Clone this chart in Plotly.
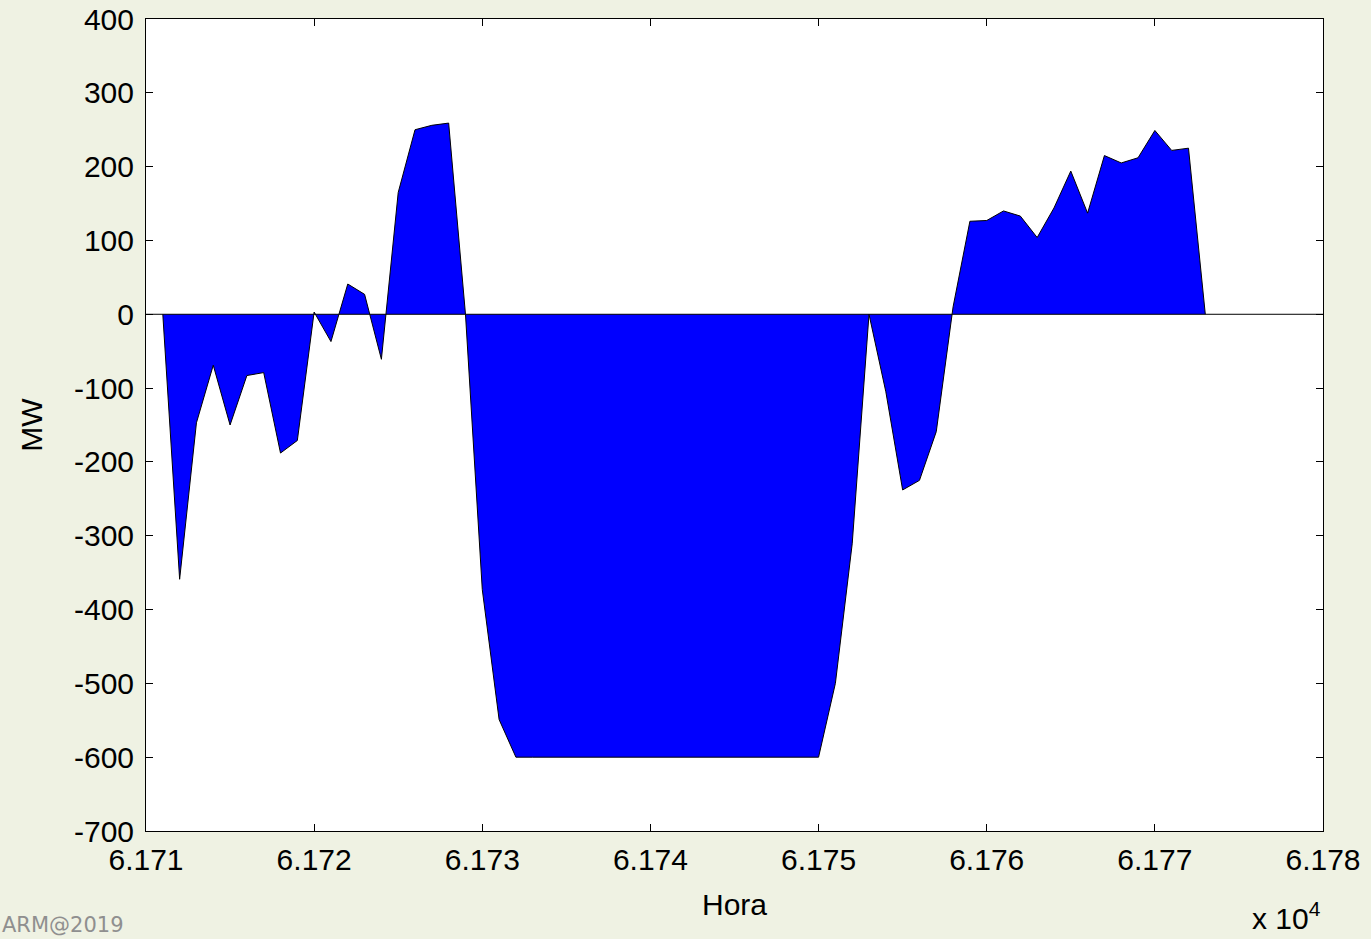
import plotly.graph_objects as go

# Hourly net power exchange (MW), hour index 61711 .. 61773
hours = list(range(61711, 61774))
mw = [
    0, -359, -147, -69, -150, -83, -79, -188, -171, 3,
    -37, 41, 27, -61, 165, 250, 256, 259, 0, -373,
    -549, -600, -600, -600, -600, -600, -600, -600, -600, -600,
    -600, -600, -600, -600, -600, -600, -600, -600, -600, -600,
    -500, -311, 0, -105, -238, -225, -159, 10, 126, 127,
    140, 133, 104, 144, 194, 137, 215, 205, 212, 249,
    222, 225, 0,
]

x_ticks = list(range(61710, 61781, 10))
x_tick_text = ["6.171", "6.172", "6.173", "6.174", "6.175", "6.176", "6.177", "6.178"]
y_ticks = list(range(-700, 401, 100))
y_tick_text = [str(v) for v in y_ticks]

FONT = "Liberation Sans, Arial, sans-serif"

fig = go.Figure()
fig.add_trace(go.Scatter(
    x=hours, y=mw,
    mode="lines",
    fill="tozeroy",
    fillcolor="#0000ff",
    line=dict(color="black", width=1),
    hoverinfo="x+y",
    showlegend=False,
))

# baseline of the area across the full axes width
fig.add_shape(type="line", xref="paper", yref="y", x0=0, x1=1, y0=0, y1=0,
              line=dict(color="black", width=1), layer="above")

fig.update_layout(
    width=1371, height=939,
    margin=dict(l=146, r=48, t=19, b=108),
    paper_bgcolor="#eff2e3",
    plot_bgcolor="white",
    font=dict(family=FONT, size=30, color="black"),
    xaxis=dict(
        range=[61710, 61780],
        tickvals=x_ticks, ticktext=x_tick_text,
        ticks="inside", ticklen=7, tickwidth=1, tickcolor="black",
        showline=True, linecolor="black", linewidth=1, mirror="ticks",
        showgrid=False, zeroline=False, automargin=False,
        ticklabelstandoff=2,
        tickfont=dict(size=30),
        title=dict(text="Hora", font=dict(size=30), standoff=18),
    ),
    yaxis=dict(
        range=[-700, 400],
        tickvals=y_ticks, ticktext=y_tick_text,
        ticks="inside", ticklen=7, tickwidth=1, tickcolor="black",
        showline=True, linecolor="black", linewidth=1, mirror="ticks",
        showgrid=False, zeroline=False, automargin=False,
        ticklabelstandoff=5,
        tickfont=dict(size=30),
        title=dict(text="MW", font=dict(size=30), standoff=22),
    ),
    annotations=[
        dict(text="x 10<sup>4</sup>", xref="paper", yref="paper",
             x=1.0, y=0, xanchor="right", yanchor="bottom", yshift=-106,
             showarrow=False, font=dict(size=30, family=FONT)),
        dict(text="ARM@2019", xref="paper", yref="paper",
             x=0, y=0, xanchor="left", yanchor="bottom",
             xshift=-146, yshift=-108, showarrow=False,
             font=dict(size=21, family="DejaVu Sans, sans-serif", color="#8f8f8f")),
    ],
)

fig.write_html("out.html")
